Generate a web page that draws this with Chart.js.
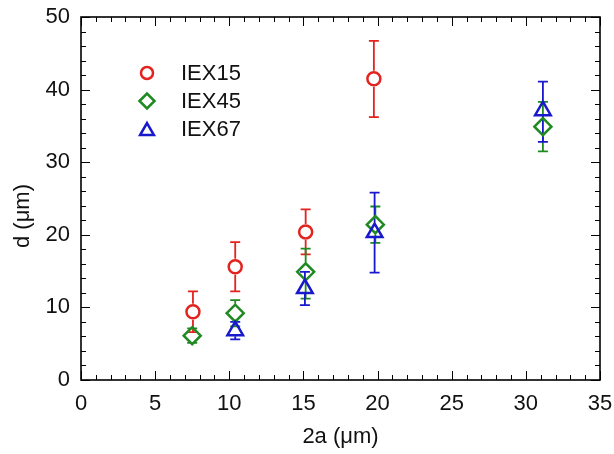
<!DOCTYPE html>
<html>
<head>
<meta charset="utf-8">
<script src="https://cdn.jsdelivr.net/npm/chart.js@4.4.1/dist/chart.umd.min.js"></script>
<style>
  html, body { margin: 0; padding: 0; background: #ffffff; }
  #wrap { width: 614px; height: 454px; }
</style>
</head>
<body>
<div id="wrap"><canvas id="c" width="614" height="454"></canvas></div>
<script>
// Particle size d versus indent size 2a for three samples (mean ± error)
const seriesNames = ['IEX15', 'IEX45', 'IEX67'];

const iex15X = [7.55, 10.4, 15.15, 19.75];
const iex15Y = [9.4, 15.6, 20.4, 41.5];
const iex15ErrUp = [2.8, 3.4, 3.1, 5.2];
const iex15ErrDown = [2.8, 3.4, 3.1, 5.3];

const iex45X = [7.5, 10.4, 15.15, 19.85, 31.15];
const iex45Y = [6.1, 9.2, 14.9, 21.4, 34.9];
const iex45ErrUp = [1.0, 1.8, 3.2, 2.5, 3.4];
const iex45ErrDown = [1.0, 1.8, 3.7, 2.5, 3.4];

const iex67X = [10.4, 15.1, 19.8, 31.15];
const iex67Y = [6.8, 12.6, 20.3, 37.1];
const iex67ErrUp = [1.2, 2.3, 5.5, 4.0];
const iex67ErrDown = [1.2, 2.3, 5.5, 4.3];

// Axis ticks
const xMajorTicks = [0, 5, 10, 15, 20, 25, 30, 35];
const yMajorTicks = [0, 10, 20, 30, 40, 50];
const xMinorStep = 1;
const yMinorStep = 2;

const xTitle = '2a (μm)';
const yTitle = 'd (μm)';

const RED = '#e2231f';
const GREEN = '#1f8a22';
const BLUE = '#1818cc';
const FONT = '"Liberation Sans", Arial, sans-serif';

function toPoints(xs, ys) { return xs.map((x, i) => ({ x: x, y: ys[i] })); }

const seriesDefs = [
  { label: seriesNames[0], xs: iex15X, ys: iex15Y, up: iex15ErrUp, down: iex15ErrDown, color: RED, style: 'circle', radius: 6.5, order: 2 },
  { label: seriesNames[1], xs: iex45X, ys: iex45Y, up: iex45ErrUp, down: iex45ErrDown, color: GREEN, style: 'rectRot', radius: 8.5, order: 1 },
  { label: seriesNames[2], xs: iex67X, ys: iex67Y, up: iex67ErrUp, down: iex67ErrDown, color: BLUE, style: 'triangle', radius: 9, order: 0 }
];

const datasets = seriesDefs.map(s => ({
  label: s.label,
  data: toPoints(s.xs, s.ys),
  errUp: s.up,
  errDown: s.down,
  borderColor: s.color,
  backgroundColor: 'rgba(0,0,0,0)',
  pointStyle: s.style,
  pointRadius: s.radius,
  pointHoverRadius: s.radius,
  pointBorderWidth: 2.5,
  showLine: false,
  order: s.order
}));

// Gap between marker centre and start of the error bar (above, below)
function markerGap(style, r) {
  if (style === 'triangle') return [r + 1, r / 2 + 1];
  if (style === 'rectRot') return [r + 1, r + 1];
  return [r + 1.5, r + 1.5];
}

const errorBarPlugin = {
  id: 'errorBars',
  beforeDatasetsDraw(chart) {
    const ctx = chart.ctx;
    const ys = chart.scales.y;
    ctx.save();
    chart.data.datasets.forEach((ds, di) => {
      const meta = chart.getDatasetMeta(di);
      const [gapUp, gapDown] = markerGap(ds.pointStyle, ds.pointRadius);
      ctx.strokeStyle = ds.borderColor;
      ctx.lineWidth = 1.8;
      meta.data.forEach((pt, i) => {
        const v = ds.data[i].y;
        const top = ys.getPixelForValue(v + ds.errUp[i]);
        const bot = ys.getPixelForValue(v - ds.errDown[i]);
        const x = pt.x;
        const cap = 5;
        ctx.beginPath();
        if (pt.y - gapUp > top) { ctx.moveTo(x, pt.y - gapUp); ctx.lineTo(x, top); }
        ctx.moveTo(x - cap, top); ctx.lineTo(x + cap, top);
        if (pt.y + gapDown < bot) { ctx.moveTo(x, pt.y + gapDown); ctx.lineTo(x, bot); }
        ctx.moveTo(x - cap, bot); ctx.lineTo(x + cap, bot);
        ctx.stroke();
      });
    });
    ctx.restore();
  }
};

// Box frame with inward major and minor ticks on all four sides
const framePlugin = {
  id: 'frame',
  afterDraw(chart) {
    const ctx = chart.ctx;
    const a = chart.chartArea;
    const xs = chart.scales.x, ys = chart.scales.y;
    ctx.save();
    ctx.strokeStyle = '#000';
    ctx.lineWidth = 1;
    ctx.beginPath();
    for (let v = xs.min; v <= xs.max + 1e-9; v += xMinorStep) {
      const px = Math.round(xs.getPixelForValue(v)) + 0.5;
      const len = xMajorTicks.includes(Math.round(v)) ? 9 : 5;
      ctx.moveTo(px, a.bottom); ctx.lineTo(px, a.bottom - len);
      ctx.moveTo(px, a.top); ctx.lineTo(px, a.top + len);
    }
    for (let v = ys.min; v <= ys.max + 1e-9; v += yMinorStep) {
      const py = Math.round(ys.getPixelForValue(v)) + 0.5;
      const len = yMajorTicks.includes(Math.round(v)) ? 9 : 5;
      ctx.moveTo(a.left, py); ctx.lineTo(a.left + len, py);
      ctx.moveTo(a.right, py); ctx.lineTo(a.right - len, py);
    }
    ctx.stroke();
    ctx.lineWidth = 1.6;
    ctx.strokeRect(a.left, a.top, a.right - a.left, a.bottom - a.top);

    // Axis titles
    ctx.fillStyle = '#111';
    ctx.font = '22px ' + FONT;
    ctx.textAlign = 'center';
    ctx.textBaseline = 'middle';
    ctx.fillText(xTitle, (a.left + a.right) / 2, 437);
    ctx.translate(23, 216);
    ctx.rotate(-Math.PI / 2);
    ctx.fillText(yTitle, 0, 0);
    ctx.restore();
  }
};

// Legend in the upper-left of the plot area
const legendPlugin = {
  id: 'insetLegend',
  afterDraw(chart) {
    const ctx = chart.ctx;
    ctx.save();
    const rowY = [73, 101, 129];
    chart.data.datasets.forEach((ds, i) => {
      ctx.strokeStyle = ds.borderColor;
      ctx.fillStyle = 'rgba(0,0,0,0)';
      ctx.lineWidth = 2.5;
      const r = ds.pointStyle === 'circle' ? 6 : (ds.pointStyle === 'rectRot' ? 7.5 : 8);
      const yOff = ds.pointStyle === 'triangle' ? 2 : 0;
      Chart.helpers.drawPoint(ctx, { pointStyle: ds.pointStyle, radius: r, borderWidth: 2.5, rotation: 0 }, 147, rowY[i] + yOff);
      ctx.fillStyle = '#111';
      ctx.font = '22px ' + FONT;
      ctx.textAlign = 'left';
      ctx.textBaseline = 'middle';
      ctx.fillText(ds.label, 181, rowY[i] + 1);
    });
    ctx.restore();
  }
};

new Chart(document.getElementById('c'), {
  type: 'scatter',
  data: { datasets: datasets },
  plugins: [errorBarPlugin, framePlugin, legendPlugin],
  options: {
    responsive: false,
    devicePixelRatio: 1,
    animation: false,
    layout: { padding: { left: 0, top: 17, right: 14, bottom: 0 } },
    plugins: { legend: { display: false }, tooltip: { enabled: false } },
    scales: {
      x: {
        type: 'linear',
        min: xMajorTicks[0],
        max: xMajorTicks[xMajorTicks.length - 1],
        afterBuildTicks(scale) { scale.ticks = xMajorTicks.map(v => ({ value: v })); },
        afterFit(scale) { scale.height = 74; scale.paddingLeft = 0; scale.paddingRight = 0; },
        grid: { display: false, drawTicks: false },
        border: { display: false },
        ticks: { color: '#111', padding: 11, font: { size: 22, family: FONT }, maxRotation: 0, autoSkip: false }
      },
      y: {
        type: 'linear',
        min: yMajorTicks[0],
        max: yMajorTicks[yMajorTicks.length - 1],
        afterBuildTicks(scale) { scale.ticks = yMajorTicks.map(v => ({ value: v })); },
        afterFit(scale) { scale.width = 81; scale.paddingTop = 0; scale.paddingBottom = 0; },
        grid: { display: false, drawTicks: false },
        border: { display: false },
        ticks: { color: '#111', padding: 11, font: { size: 22, family: FONT }, autoSkip: false }
      }
    }
  }
});
</script>
</body>
</html>
